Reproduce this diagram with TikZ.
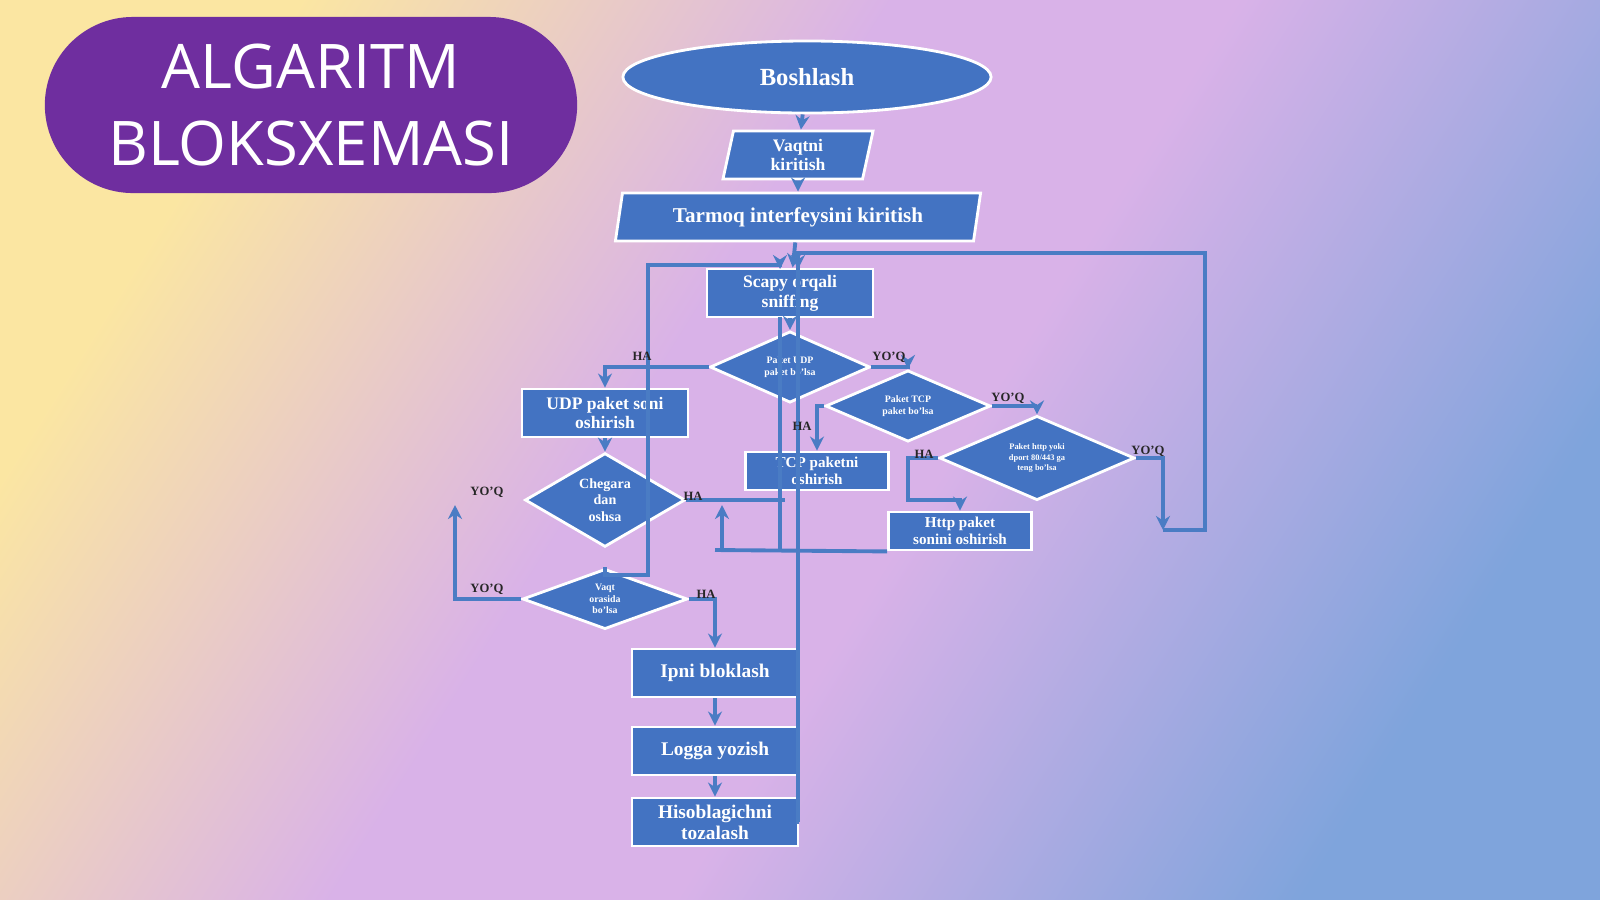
\documentclass[tikz,border=0pt]{standalone}
\usepackage{fontspec}
\setmainfont{Liberation Serif}
\newfontfamily\titlefont{Open Sans}
\usetikzlibrary{shapes.geometric,arrows.meta}
\definecolor{bgyellow}{HTML}{FBE6A2}
\definecolor{bglav}{HTML}{D9B2E8}
\definecolor{bgblue}{HTML}{7FA4DC}
\definecolor{titlepurple}{HTML}{6F2E9F}
\definecolor{boxblue}{HTML}{4373C2}
\definecolor{wireblue}{HTML}{4A7CC4}
\pgfdeclareverticalshading{bgshade}{100bp}{color(0bp)=(bgblue); color(25bp)=(bgblue); color(45bp)=(bglav); color(56bp)=(bglav); color(75bp)=(bgyellow); color(100bp)=(bgyellow)}
\tikzset{
  blok/.style={draw=white, line width=0.8pt, fill=boxblue, text=white, font=\bfseries\fontsize{5}{5.6}\selectfont, align=center, inner sep=1pt},
  jarayon/.style={blok, rectangle, minimum width=1.66cm, minimum height=0.48cm},
  shart/.style={blok, diamond, inner sep=0pt, font=\bfseries\fontsize{2.8}{3.2}\selectfont},
  kiritish/.style={blok, trapezium, trapezium left angle=75, trapezium right angle=105, trapezium stretches body, minimum height=0.48cm},
  wire/.style={draw=wireblue, line width=1.1pt},
  ok/.style={wire, -{Stealth[length=4pt,width=4pt]}},
  yozuv/.style={font=\bfseries\fontsize{3.6}{4}\selectfont, text=black!85}
}
\begin{document}
\begin{tikzpicture}[x=0.01cm, y=-0.01cm]
  % fon
  \shade[shading=bgshade, shading angle=58] (0,0) rectangle (1600,899);
  \useasboundingbox (0,0) rectangle (1600,899);
  % sarlavha
  \node[fill=titlepurple, rounded corners=0.88cm, minimum width=5.32cm, minimum height=1.76cm, text=white, align=center,
        font=\titlefont\fontsize{17.5}{22}\selectfont] (sarlavha) at (311,105) {ALGARITM\\BLOKSXEMASI};
  % bloklar
  \node[blok, ellipse, minimum width=3.68cm, minimum height=0.72cm, font=\bfseries\fontsize{7}{8}\selectfont] (boshlash) at (807,77) {Boshlash};
  \node[kiritish, minimum width=1.5cm] (vaqtni) at (798,155) {Vaqtni\\kiritish};
  \node[kiritish, minimum width=3.65cm, font=\bfseries\fontsize{6}{7}\selectfont] (tarmoq) at (798,217) {Tarmoq interfeysini kiritish};
  \node[jarayon] (scapy) at (790,293) {Scapy orqali\\sniffing};
  \node[shart, minimum width=1.6cm, minimum height=0.5cm] (udp) at (790,367) {Paket UDP\\paket bo'lsa};
  \node[jarayon] (udpsoni) at (605,413) {UDP paket soni\\oshirish};
  \node[shart, minimum width=1.65cm, minimum height=0.48cm] (tcp) at (908,406) {Paket TCP\\paket bo'lsa};
  \node[jarayon, minimum width=1.43cm, minimum height=0.38cm, font=\bfseries\fontsize{4.3}{4.9}\selectfont] (tcpsoni) at (817,471) {TCP paketni\\oshirish};
  \node[shart, minimum width=1.95cm, minimum height=0.62cm, font=\bfseries\fontsize{2.4}{2.9}\selectfont] (http) at (1037,458) {Paket http yoki\\dport 80/443 ga\\teng bo'lsa};
  \node[jarayon, minimum width=1.43cm, minimum height=0.38cm, font=\bfseries\fontsize{4.3}{4.9}\selectfont] (httpsoni) at (960,531) {Http paket\\sonini oshirish};
  \node[shart, minimum width=1.6cm, minimum height=0.6cm, font=\bfseries\fontsize{4}{4.6}\selectfont] (chegara) at (605,500) {Chegara\\dan\\oshsa};
  \node[shart, minimum width=1.65cm, minimum height=0.48cm] (vaqt) at (605,599) {Vaqt\\orasida\\bo'lsa};
  \node[jarayon, font=\bfseries\fontsize{5.5}{6}\selectfont] (ipni) at (715,673) {Ipni bloklash};
  \node[jarayon, font=\bfseries\fontsize{5.5}{6}\selectfont] (logga) at (715,751) {Logga yozish};
  \node[jarayon, font=\bfseries\fontsize{5.5}{6}\selectfont] (hisob) at (715,822) {Hisoblagichni\\tozalash};
  % yordamchi nuqtalar
  \coordinate (aylana) at (1205,253);
  \coordinate (qaytish) at (1163,530);
  \coordinate (chap) at (455,505);
  \coordinate (tugun) at (715,550);
  \coordinate (kirish1) at (780,269);
  \coordinate (kirish2) at (798,269);
  \coordinate (ustun1) at (780,317);
  \coordinate (ustun2) at (798,253);
  % ulanishlar
  \draw[ok] (boshlash) -- (vaqtni);
  \draw[ok] (vaqtni) -- (tarmoq);
  \draw[ok] (tarmoq) -- (scapy);
  \draw[ok] (scapy) -- (udp);
  \draw[ok] (udp.west) -| (udpsoni.north);
  \draw[ok] (udp.east) -| (tcp.north);
  \draw[ok] (tcp.west) -| (tcpsoni.north);
  \draw[ok] (tcp.east) -| (http.north);
  \draw[ok] (http.west) -| (908,500) -| (httpsoni.north);
  \draw[ok] (http.east) -| (qaytish);
  \draw[ok] (qaytish) -| (aylana) -- (ustun2) -- (kirish2);
  \draw[ok] (udpsoni) -- (chegara);
  \draw[ok] (vaqt.north) -- (605,575) -| (648,265) -| (kirish1);
  \draw[wire] (chegara.east) -- (785,500);
  \draw[ok] (vaqt.west) -| (chap);
  \draw[ok] (vaqt.east) -| (ipni.north);
  \draw[ok] (tugun) -| (722,505);
  \draw[wire] (tugun) -- (httpsoni.south west);
  \draw[wire] (ustun1) -- (780,550);
  \draw[wire] (hisob.east) -| (ustun2);
  \draw[ok] (ipni) -- (logga);
  \draw[ok] (logga) -- (hisob);
  % yozuvlar
  \node[yozuv] (ha1) at (642,356) {HA};
  \node[yozuv] (yoq1) at (889,357) {YO'Q};
  \node[yozuv] (ha2) at (802,426) {HA};
  \node[yozuv] (yoq2) at (1008,398) {YO'Q};
  \node[yozuv] (ha3) at (924,454) {HA};
  \node[yozuv] (yoq3) at (1148,451) {YO'Q};
  \node[yozuv] (yoq4) at (487,492) {YO'Q};
  \node[yozuv] (ha4) at (693,496) {HA};
  \node[yozuv] (yoq5) at (487,589) {YO'Q};
  \node[yozuv] (ha5) at (706,594) {HA};
\end{tikzpicture}
\end{document}
